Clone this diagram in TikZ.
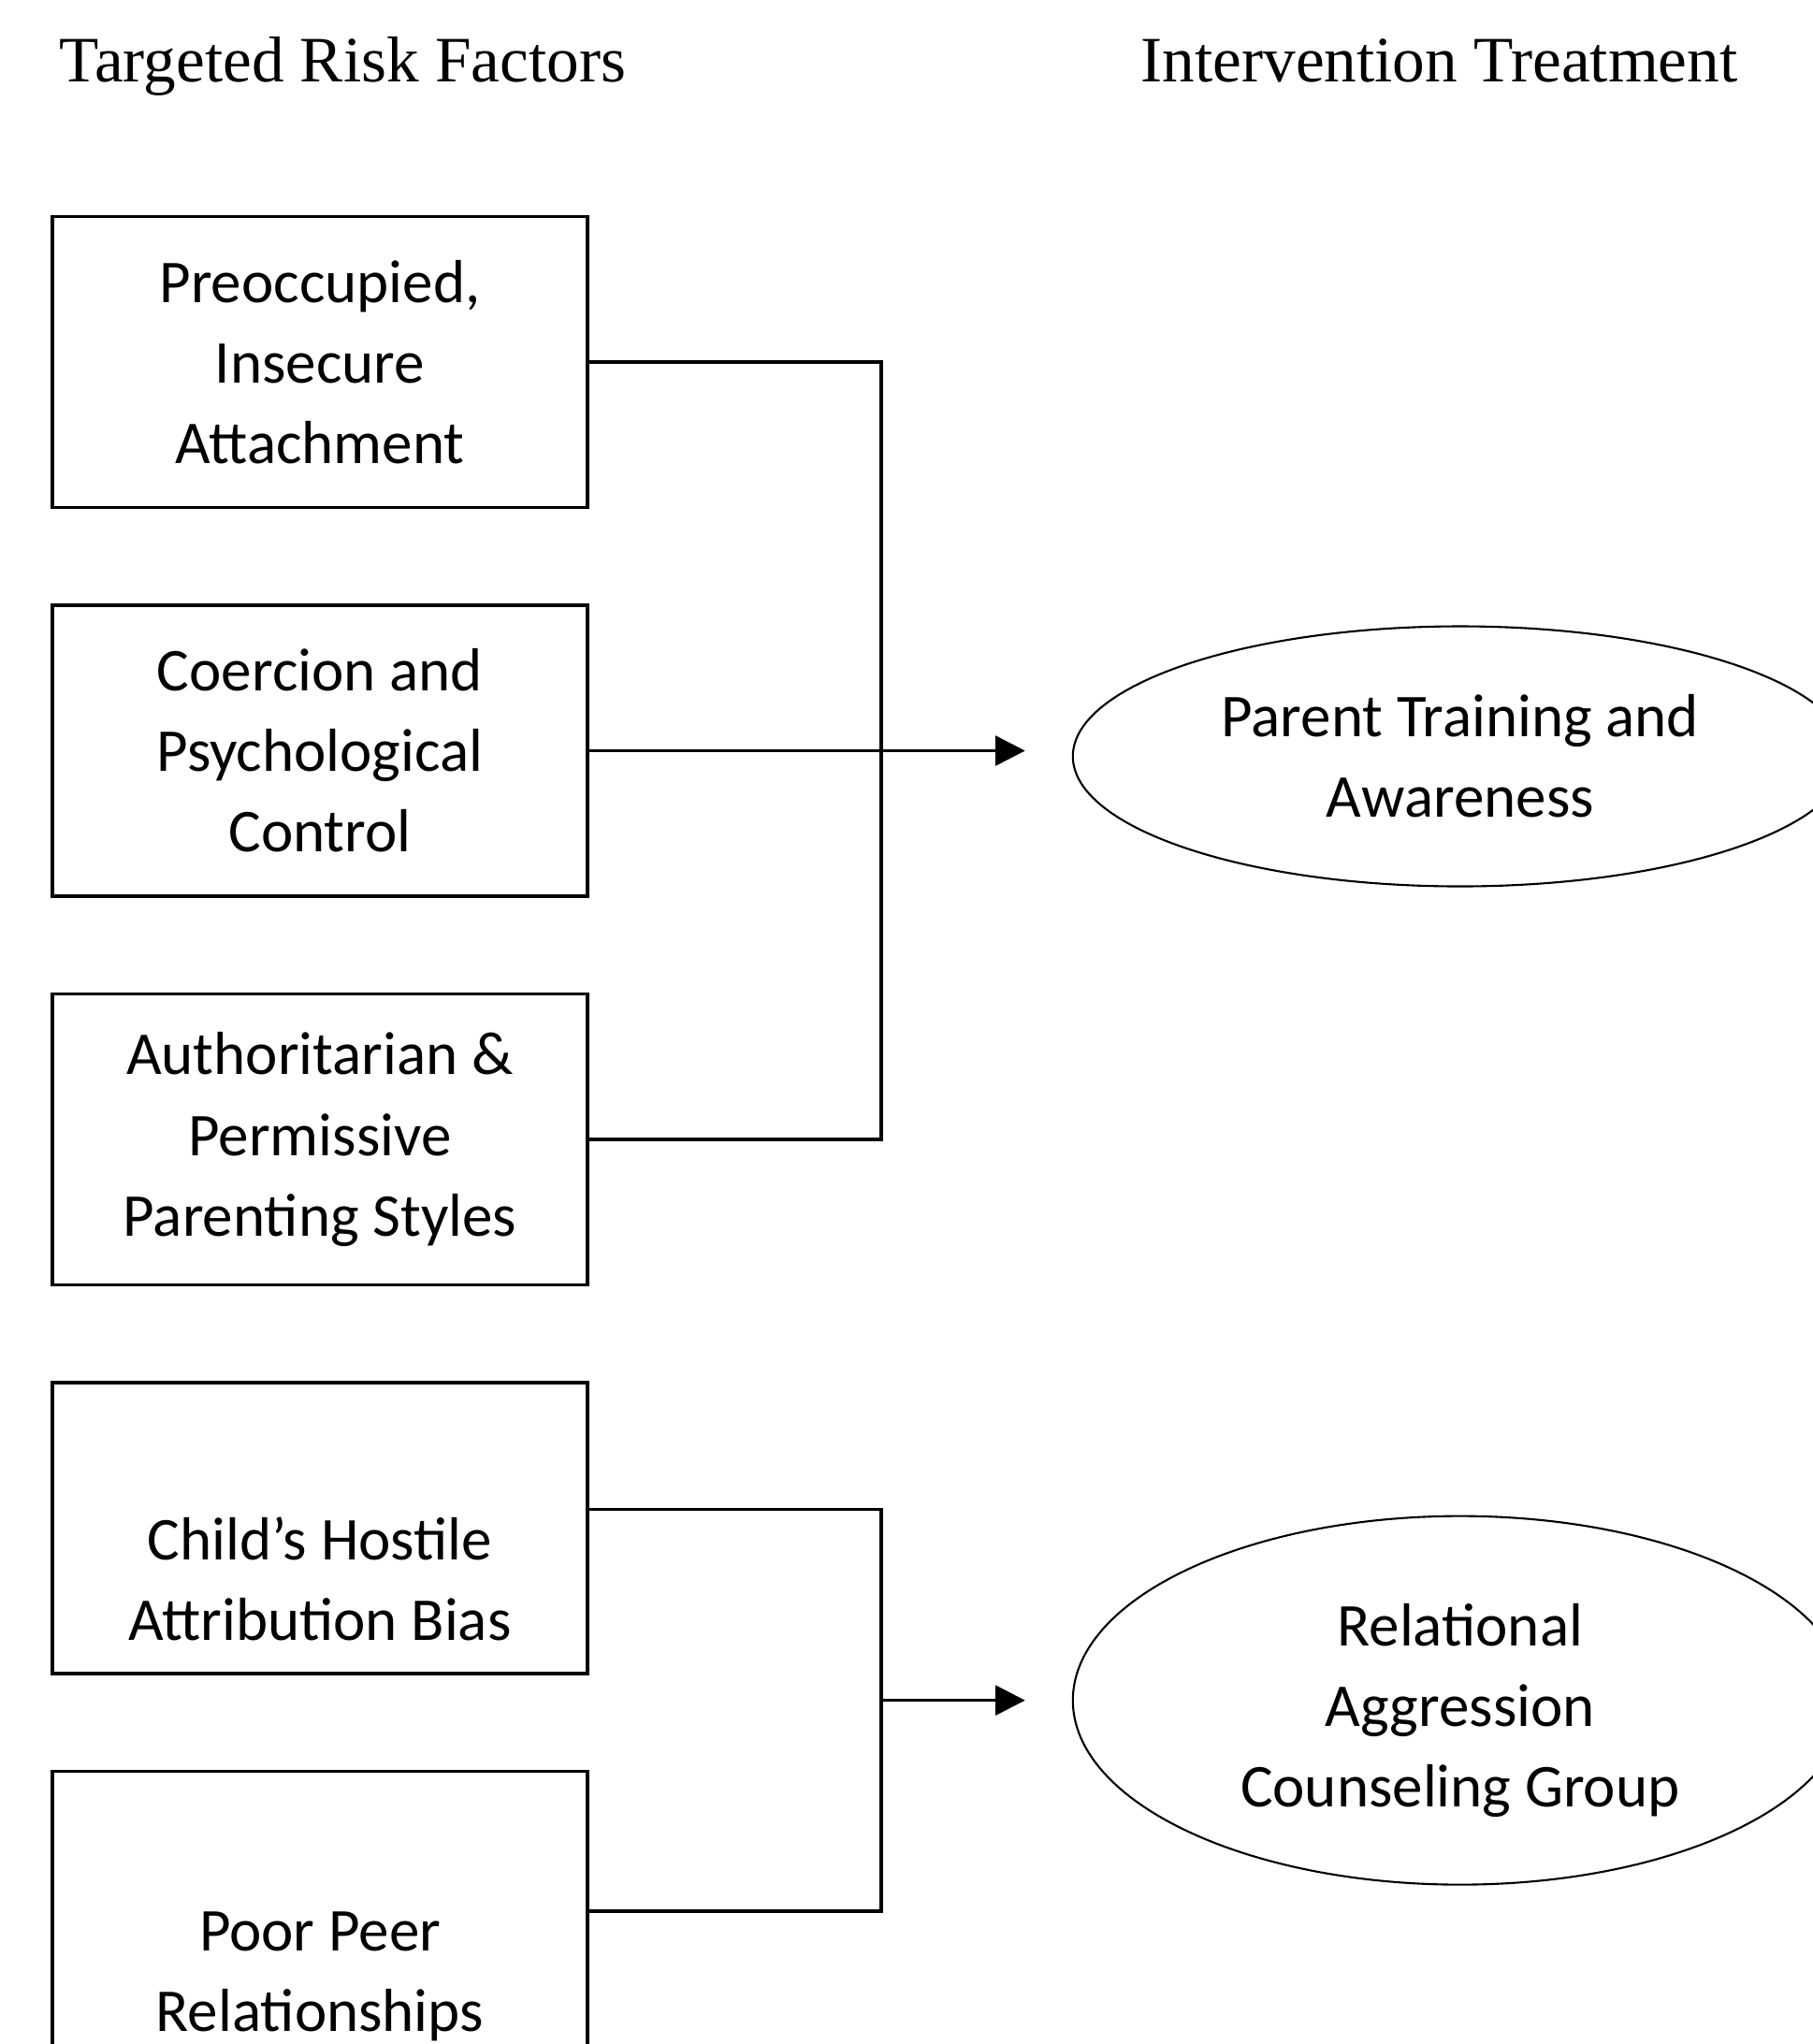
\documentclass[tikz,border=0pt]{standalone}
\usepackage{fontspec}
\setmainfont{Liberation Serif}
\newfontfamily\boxfont{Carlito}
\usepackage{tikz}
\usetikzlibrary{positioning}
\usetikzlibrary{shapes.geometric}
\usetikzlibrary{arrows.meta}
\tikzset{
        risk box/.style={
          draw, line width=1pt,
          minimum width=5.72cm, minimum height=3.11cm,
          inner sep=0pt, align=center,
          font=\boxfont\fontsize{18.5}{24.5}\selectfont
          },
        treatment/.style={
          ellipse, draw, line width=0.6pt,
          minimum width=8.28cm, minimum height=2.78cm,
          inner sep=0pt, align=center,
          font=\boxfont\fontsize{18.5}{24.5}\selectfont
          },
        heading/.style={anchor=base west, inner sep=0pt, font=\fontsize{19.7}{23}\selectfont},
        wire/.style={line width=1pt, >={Triangle[length=9pt, width=9pt]}},
}

\begin{document}
\begin{tikzpicture}
      \useasboundingbox (0,0) rectangle (19.38,-21.85);
      % headings
      \node[heading] (ttlrisk) at (0.63,-0.87) {Targeted Risk Factors};
      \node[heading] (ttltreat) at (12.19,-0.87) {Intervention Treatment};

      % RISK FACTORS
      \node[risk box] (attach) at (3.42,-3.87) {Preoccupied,\\Insecure\\Attachment};
      \node[risk box, below=1.01cm of attach] (coercion) {Coercion and\\Psychological\\Control};
      \node[risk box, below=1.01cm of coercion] (parenting) {Authoritarian \&\\Permissive\\Parenting Styles};
      \node[risk box, below=1.01cm of parenting] (hostile) {\rule{0pt}{44pt}Child’s Hostile\\Attribution Bias};
      \node[risk box, below=1.01cm of hostile] (peer) {\rule{0pt}{48pt}Poor Peer\\Relationships};

      % TREATMENTS
      \node[treatment, right=5.16cm of coercion, yshift=-0.06cm] (parenttrain) {Parent Training and\\Awareness};
      \node[treatment, minimum height=3.94cm, below=6.71cm of parenttrain] (relagg) {\rule{0pt}{19pt}Relational\\Aggression\\Counseling Group};

      % WIRING
      \coordinate[right=3.12cm of coercion.east] (jtop);
      \coordinate (jbot) at (jtop |- relagg.west);
      % parenting factors to parent training
      \draw[wire] (attach.east) -| (jtop) |- (parenting.east);
      \draw[wire, ->] (coercion.east) -- ([xshift=-5mm]parenttrain.west |- coercion.east);
      % child factors to counseling group
      \draw[wire] ([yshift=2mm]hostile.east) -| (jbot) |- ([yshift=0.6mm]peer.east);
      \draw[wire, ->] (jbot) -- ([xshift=-5mm]relagg.west);
\end{tikzpicture}
\end{document}
